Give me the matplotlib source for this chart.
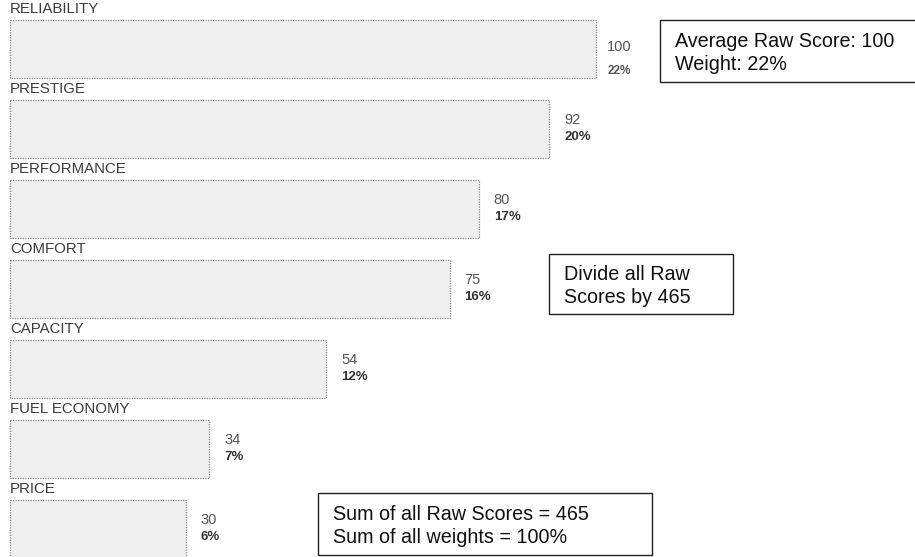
import matplotlib
matplotlib.use("Agg")
import matplotlib.pyplot as plt
from matplotlib.patches import Rectangle

plt.rcParams['font.family'] = ['Liberation Sans', 'DejaVu Sans']

categories = ["RELIABILITY", "PRESTIGE", "PERFORMANCE", "COMFORT",
              "CAPACITY", "FUEL ECONOMY", "PRICE"]
raw_scores = [100, 92, 80, 75, 54, 34, 30]
weights = [22, 20, 17, 16, 12, 7, 6]

notes = [
    ("Average Raw Score: 100\nWeight: 22%", (660, 20, 262, 62)),
    ("Divide all Raw\nScores by 465", (549, 254, 184, 60)),
    ("Sum of all Raw Scores = 465\nSum of all weights = 100%", (318, 493, 334, 62)),
]

W, H = 915, 557
fig = plt.figure(figsize=(W / 100, H / 100), dpi=100)
ax = fig.add_axes([0, 0, 1, 1])

# value axis: 0 at x=10px, 5.86 px per unit; rows spaced 80 px
px_per_unit = 5.86
ax.set_xlim(-10 / px_per_unit, (W - 10) / px_per_unit)
ax.set_ylim((H - 49) / 80, -49 / 80)
ax.axis("off")

bar_h = 0.725
ax.barh(range(len(categories)), raw_scores, height=bar_h, left=0,
        color="#efefef", edgecolor="#8a8a8a", linewidth=0.9,
        linestyle=(0, (1, 1)), zorder=2)

dx = 15 / px_per_unit
for i, (cat, v, w) in enumerate(zip(categories, raw_scores, weights)):
    top = i - bar_h / 2
    ax.text(0, top - 0.05, cat, ha="left", va="bottom", fontsize=10.8,
            color="#3c3c3c")
    # faint dotted rule above each label row
    ax.plot([0, v], [top - 0.3, top - 0.3], color="#d0d0d0", lw=0.9,
            linestyle=(0, (1, 1.5)), zorder=1)
    if i == 0:
        ax.text(v + dx * 0.75, i - 0.03, f"{v}", ha="left", va="center",
                fontsize=10.5, color="#555555")
        ax.text(v + dx * 0.75, i + 0.27, f"{w}%", ha="left", va="center",
                fontsize=8.5, color="#555555", fontweight="bold")
    else:
        ax.text(v + dx, i - 0.11, f"{v}", ha="left", va="center",
                fontsize=10.5, color="#555555")
        ax.text(v + dx, i + 0.1, f"{w}%", ha="left", va="center",
                fontsize=9.5, color="#333333", fontweight="bold")

# annotation boxes in pixel coordinates
for txt, (x0, y0, bw, bh) in notes:
    rect = Rectangle((x0 / W, 1 - (y0 + bh) / H), bw / W, bh / H,
                     transform=fig.transFigure, facecolor="white",
                     edgecolor="#222222", linewidth=1.0)
    fig.add_artist(rect)
    fig.text((x0 + 15) / W, 1 - (y0 + bh / 2 + 2) / H, txt, ha="left",
             va="center", fontsize=14.2, color="#111111", linespacing=1.3)

fig.savefig("out.png", dpi=100)
